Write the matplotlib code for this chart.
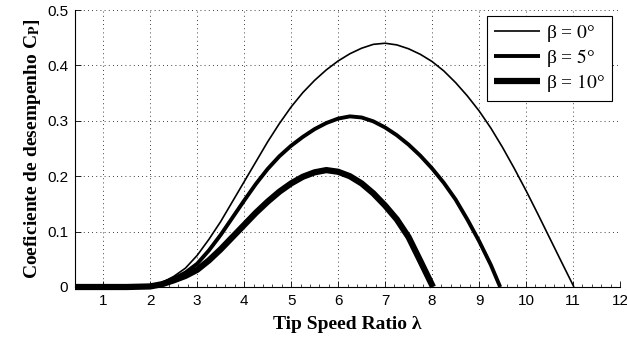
import numpy as np
import matplotlib
matplotlib.use("Agg")
import matplotlib.pyplot as plt
from matplotlib.ticker import MultipleLocator

plt.rcParams["font.family"] = ["Liberation Sans", "DejaVu Sans"]
plt.rcParams["mathtext.fontset"] = "stix"

# beta = 0 deg
lam_b0 = [0.4, 1.0, 1.5, 1.75, 2.0, 2.25, 2.5, 2.75, 3.0, 3.25, 3.5, 3.75, 4.0, 4.25,
          4.5, 4.75, 5.0, 5.25, 5.5, 5.75, 6.0, 6.25, 6.5, 6.75, 7.0, 7.25, 7.5, 7.75,
          8.0, 8.25, 8.5, 8.75, 9.0, 9.25, 9.5, 9.75, 10.0, 10.25, 10.5, 10.75, 11.02]
cp_b0 = [0, 0, 0, 0.0005, 0.002, 0.008, 0.019, 0.034, 0.057, 0.086, 0.118, 0.154, 0.19, 0.226,
         0.262, 0.295, 0.325, 0.351, 0.373, 0.392, 0.408, 0.421, 0.431, 0.438, 0.440, 0.437, 0.430, 0.420,
         0.407, 0.39, 0.369, 0.345, 0.318, 0.287, 0.252, 0.214, 0.174, 0.132, 0.089, 0.046, 0]

# beta = 5 deg
lam_b5 = [0.4, 1.0, 1.5, 2.0, 2.25, 2.5, 2.75, 3.0, 3.25, 3.5, 3.75, 4.0, 4.25, 4.5,
          4.75, 5.0, 5.25, 5.5, 5.75, 6.0, 6.25, 6.5, 6.75, 7.0, 7.25, 7.5, 7.75, 8.0,
          8.25, 8.5, 8.75, 9.0, 9.25, 9.45]
cp_b5 = [0, 0, 0, 0.001, 0.006, 0.015, 0.026, 0.042, 0.066, 0.094, 0.125, 0.156, 0.186, 0.213,
         0.236, 0.255, 0.271, 0.285, 0.296, 0.304, 0.308, 0.306, 0.299, 0.288, 0.274, 0.257, 0.237, 0.214,
         0.188, 0.158, 0.122, 0.083, 0.040, 0]

# beta = 10 deg
lam_b10 = [0.4, 1.0, 1.5, 2.0, 2.25, 2.5, 2.75, 3.0, 3.25, 3.5, 3.75, 4.0, 4.25, 4.5,
           4.75, 5.0, 5.25, 5.5, 5.75, 6.0, 6.25, 6.5, 6.75, 7.0, 7.25, 7.5, 7.75, 8.02]
cp_b10 = [0, 0, 0, 0.001, 0.005, 0.012, 0.02, 0.031, 0.048, 0.068, 0.09, 0.112, 0.134, 0.154,
          0.172, 0.187, 0.199, 0.207, 0.211, 0.208, 0.2, 0.187, 0.169, 0.147, 0.122, 0.09, 0.047, 0]

labels = [r"β = $\mathit{0}$°", r"β = $\mathit{5}$°", r"β = $\mathit{10}$°"]
widths = [1.2, 2.8, 4.5]

fig = plt.figure(figsize=(6.27, 3.38), dpi=100)
ax = fig.add_axes([75 / 627, 1 - 287 / 338, 545 / 627, 277 / 338])

for lam, cp, lab, lw in zip([lam_b0, lam_b5, lam_b10], [cp_b0, cp_b5, cp_b10], labels, widths):
    ax.plot(lam, cp, color="black", lw=lw, label=lab, solid_capstyle="butt",
            solid_joinstyle="round", clip_on=False, zorder=3)

ax.set_xlim(0.4, 12)
ax.set_ylim(0, 0.5)
ax.set_xticks(range(1, 13))
ax.set_yticks([0, 0.1, 0.2, 0.3, 0.4, 0.5])
ax.set_yticklabels(["0", "0.1", "0.2", "0.3", "0.4", "0.5"])
ax.xaxis.set_minor_locator(MultipleLocator(0.2))
ax.tick_params(which="major", direction="in", length=4, width=0.6, labelsize=11, pad=5)
ax.tick_params(which="minor", direction="in", length=2, width=0.5)
ax.tick_params(axis="y", which="minor", left=False)

ax.grid(True, which="major", linestyle=(0, (1, 4)), color="black", lw=0.6)
for s in ["top", "right"]:
    ax.spines[s].set_visible(False)
for s in ["left", "bottom"]:
    ax.spines[s].set_linewidth(0.8)

ax.set_xlabel("Tip Speed Ratio λ", family="Liberation Serif", fontweight="bold", fontsize=14, labelpad=6)
ax.set_ylabel(r"Coeficiente de desempenho C$_\mathbf{P}$]", family="Liberation Serif",
              fontweight="bold", fontsize=14, labelpad=3)

leg = ax.legend(loc="upper right", bbox_to_anchor=(0.985, 0.978), borderaxespad=0,
                fancybox=False, framealpha=1, edgecolor="black",
                prop={"family": "Liberation Serif", "size": 14},
                handlelength=2.4, handletextpad=0.3, labelspacing=0.15, borderpad=0.35)
leg.get_frame().set_linewidth(0.8)

fig.savefig("out.png", dpi=100)
